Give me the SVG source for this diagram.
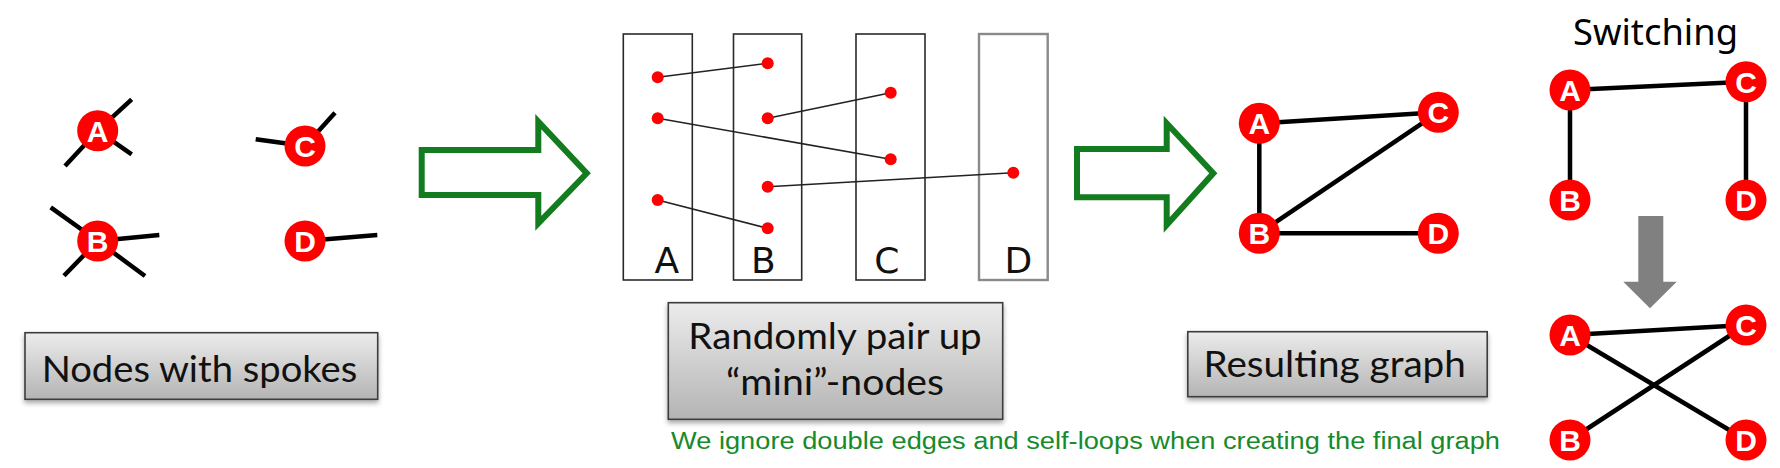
<svg xmlns="http://www.w3.org/2000/svg" width="1780" height="468" viewBox="0 0 1780 468">
<defs>
<linearGradient id="btn" x1="0" y1="0" x2="0" y2="1">
<stop offset="0" stop-color="#ececec"/>
<stop offset="1" stop-color="#b4b4b4"/>
</linearGradient>
<filter id="sh" x="-10%" y="-10%" width="120%" height="140%">
<feDropShadow dx="0" dy="3" stdDeviation="2.5" flood-color="#000" flood-opacity="0.35"/>
</filter>
</defs>
<style>
.node circle{fill:#fe0000}
.node text{font-family:"Liberation Sans",Arial,sans-serif;font-weight:bold;font-size:30px;fill:#fff;text-anchor:middle}
.spoke{stroke:#000;stroke-width:4.5;fill:none}
.edge{stroke:#000;stroke-width:4.5;fill:none}
.bin{fill:#fff;stroke:#2a2a2a;stroke-width:1.6}
.binlbl{font-family:"DejaVu Sans",sans-serif;font-size:36px;fill:#111;text-anchor:middle}
.dot{fill:#fe0000}
.pair{stroke:#222;stroke-width:1.6;fill:none}
.garrow{fill:#fff;stroke:#127c1f;stroke-width:6;stroke-linejoin:miter}
.btn rect{fill:url(#btn);stroke:#3c3c3c;stroke-width:1.6;filter:url(#sh)}
.btn text{font-family:Lato,"Noto Sans",sans-serif;font-size:37.5px;fill:#111;text-anchor:start}
.note{font-family:"Liberation Sans",Arial,sans-serif;font-size:23px;fill:#178a2b}
.title{font-family:"Noto Sans","Open Sans",sans-serif;font-size:36px;fill:#000;text-anchor:middle}
</style>

<!-- Panel 1: nodes with spokes -->
<g id="spokes">
<line class="spoke" x1="97.7" y1="130.7" x2="131.7" y2="99.3"/>
<line class="spoke" x1="97.7" y1="130.7" x2="65" y2="166"/>
<line class="spoke" x1="97.7" y1="130.7" x2="131.7" y2="154.3"/>
<line class="spoke" x1="305" y1="146" x2="335" y2="112.7"/>
<line class="spoke" x1="305" y1="146" x2="255.7" y2="139.3"/>
<line class="spoke" x1="97.7" y1="241" x2="50.7" y2="207.3"/>
<line class="spoke" x1="97.7" y1="241" x2="159.3" y2="235"/>
<line class="spoke" x1="97.7" y1="241" x2="64" y2="275.7"/>
<line class="spoke" x1="97.7" y1="241" x2="145" y2="276"/>
<line class="spoke" x1="305" y1="241" x2="377.3" y2="235"/>
</g>
<g id="p1-A" class="node"><circle cx="97.7" cy="130.7" r="20.5"/><text x="97.7" y="141.5">A</text></g>
<g id="p1-C" class="node"><circle cx="305" cy="146" r="20.5"/><text x="305" y="156.8">C</text></g>
<g id="p1-B" class="node"><circle cx="97.7" cy="241" r="20.5"/><text x="97.7" y="251.8">B</text></g>
<g id="p1-D" class="node"><circle cx="305" cy="241" r="20.5"/><text x="305" y="251.8">D</text></g>

<g id="arrow1"><polygon class="garrow" points="421.7,150 538.3,150 538.3,121.7 586.7,173.3 538.3,223.3 538.3,195 421.7,195"/></g>

<!-- Panel 2: mini-nodes -->
<g id="bin-A"><rect class="bin" x="623.3" y="34" width="69" height="246"/><text class="binlbl" x="666.7" y="273">A</text></g>
<g id="bin-B"><rect class="bin" x="733.5" y="34" width="68.2" height="246"/><text class="binlbl" x="763.3" y="273">B</text></g>
<g id="bin-C"><rect class="bin" x="856" y="34" width="69" height="246"/><text class="binlbl" x="886.7" y="273">C</text></g>
<g id="bin-D"><rect class="bin" x="979" y="34" width="68.7" height="246" style="stroke:#8a8a8a;stroke-width:2.4"/><text class="binlbl" x="1018.3" y="273">D</text></g>
<g id="pairs">
<line class="pair" x1="657.7" y1="77.3" x2="767.7" y2="63.3"/>
<line class="pair" x1="767.7" y1="118.3" x2="890.7" y2="92.7"/>
<line class="pair" x1="657.7" y1="118.3" x2="890.7" y2="159.3"/>
<line class="pair" x1="767.7" y1="186.7" x2="1013.3" y2="172.7"/>
<line class="pair" x1="657.7" y1="200" x2="767.7" y2="228.3"/>
</g>
<g id="minidots">
<circle class="dot" cx="657.7" cy="77.3" r="6"/>
<circle class="dot" cx="657.7" cy="118.3" r="6"/>
<circle class="dot" cx="657.7" cy="200" r="6"/>
<circle class="dot" cx="767.7" cy="63.3" r="6"/>
<circle class="dot" cx="767.7" cy="118.3" r="6"/>
<circle class="dot" cx="767.7" cy="186.7" r="6"/>
<circle class="dot" cx="767.7" cy="228.3" r="6"/>
<circle class="dot" cx="890.7" cy="92.7" r="6"/>
<circle class="dot" cx="890.7" cy="159.3" r="6"/>
<circle class="dot" cx="1013.3" cy="172.7" r="6"/>
</g>

<g id="arrow2"><polygon class="garrow" points="1077,149 1166.7,149 1166.7,123.3 1213.3,173.3 1166.7,225 1166.7,197.3 1077,197.3"/></g>

<!-- Panel 3: resulting graph -->
<g id="edges-result">
<line class="edge" x1="1259.3" y1="123.3" x2="1438.3" y2="112.3"/>
<line class="edge" x1="1259.3" y1="123.3" x2="1259.3" y2="233.3"/>
<line class="edge" x1="1259.3" y1="233.3" x2="1438.3" y2="112.3"/>
<line class="edge" x1="1259.3" y1="233.3" x2="1438.3" y2="233.3"/>
</g>
<g id="r-A" class="node"><circle cx="1259.3" cy="123.3" r="20.5"/><text x="1259.3" y="134.1">A</text></g>
<g id="r-C" class="node"><circle cx="1438.3" cy="112.3" r="20.5"/><text x="1438.3" y="123.1">C</text></g>
<g id="r-B" class="node"><circle cx="1259.3" cy="233.3" r="20.5"/><text x="1259.3" y="244.1">B</text></g>
<g id="r-D" class="node"><circle cx="1438.3" cy="233.3" r="20.5"/><text x="1438.3" y="244.1">D</text></g>

<!-- Panel 4: switching -->
<text class="title" x="1655.5" y="45" textLength="165" lengthAdjust="spacingAndGlyphs">Switching</text>
<g id="edges-sw1">
<line class="edge" x1="1570" y1="90" x2="1746" y2="81.7"/>
<line class="edge" x1="1570" y1="90" x2="1570" y2="200"/>
<line class="edge" x1="1746" y1="81.7" x2="1746" y2="200"/>
</g>
<g id="s1-A" class="node"><circle cx="1570" cy="90" r="20.5"/><text x="1570" y="100.8">A</text></g>
<g id="s1-C" class="node"><circle cx="1746" cy="81.7" r="20.5"/><text x="1746" y="92.5">C</text></g>
<g id="s1-B" class="node"><circle cx="1570" cy="200" r="20.5"/><text x="1570" y="210.8">B</text></g>
<g id="s1-D" class="node"><circle cx="1746" cy="200" r="20.5"/><text x="1746" y="210.8">D</text></g>

<g id="arrow-down"><polygon fill="#808080" points="1638.3,216 1663.3,216 1663.3,281.7 1676.7,281.7 1650,308.3 1623.3,281.7 1638.3,281.7"/></g>

<g id="edges-sw2">
<line class="edge" x1="1570" y1="335" x2="1746" y2="325"/>
<line class="edge" x1="1570" y1="335" x2="1746" y2="440"/>
<line class="edge" x1="1570" y1="440" x2="1746" y2="325"/>
</g>
<g id="s2-A" class="node"><circle cx="1570" cy="335" r="20.5"/><text x="1570" y="345.8">A</text></g>
<g id="s2-C" class="node"><circle cx="1746" cy="325" r="20.5"/><text x="1746" y="335.8">C</text></g>
<g id="s2-B" class="node"><circle cx="1570" cy="440" r="20.5"/><text x="1570" y="450.8">B</text></g>
<g id="s2-D" class="node"><circle cx="1746" cy="440" r="20.5"/><text x="1746" y="450.8">D</text></g>

<!-- Labels -->
<g id="lbl-nodes" class="btn"><rect x="25" y="332.7" width="352.7" height="66.6"/><text x="41.7" y="381.7" textLength="315.6" lengthAdjust="spacingAndGlyphs">Nodes with spokes</text></g>
<g id="lbl-pair" class="btn"><rect x="668.3" y="302.7" width="334.4" height="116.6"/><text x="688.3" y="349" textLength="293.4" lengthAdjust="spacingAndGlyphs">Randomly pair up</text><text x="726" y="395" textLength="218" lengthAdjust="spacingAndGlyphs">“mini”-nodes</text></g>
<g id="lbl-result" class="btn"><rect x="1187.8" y="331.7" width="299.4" height="65"/><text x="1203.5" y="377.3" textLength="262.3" lengthAdjust="spacingAndGlyphs">Resulting graph</text></g>
<text class="note" x="671" y="449" textLength="829" lengthAdjust="spacingAndGlyphs">We ignore double edges and self-loops when creating the final graph</text>
</svg>
